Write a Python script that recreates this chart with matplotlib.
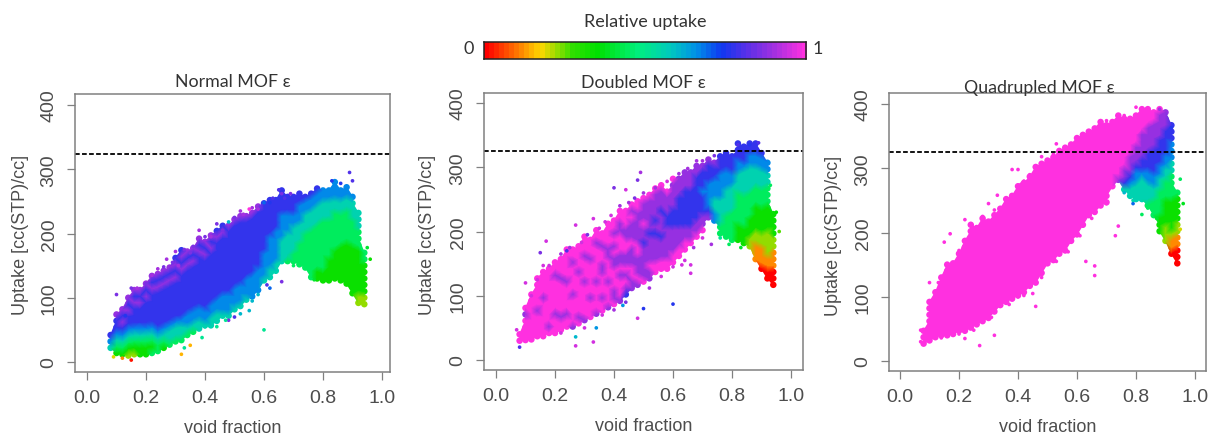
import numpy as np
import matplotlib
matplotlib.use('Agg')
import matplotlib.pyplot as plt
from matplotlib.colors import LinearSegmentedColormap
from matplotlib.tri import Triangulation

# void fraction of each column of points
void_fraction = [0.08, 0.10, 0.12, 0.14, 0.16, 0.18, 0.20, 0.22, 0.24, 0.26, 0.28, 0.30,
                 0.32, 0.34, 0.36, 0.38, 0.40, 0.42, 0.44, 0.46, 0.48, 0.50, 0.52, 0.54,
                 0.56, 0.58, 0.60, 0.62, 0.64, 0.66, 0.68, 0.70, 0.72, 0.74, 0.76, 0.78,
                 0.80, 0.82, 0.84, 0.86, 0.88, 0.90, 0.92, 0.94]

# lowest uptake of each column, then relative uptake going up in steps of 10 (digit / 9)
normal_low = [22, 14, 12, 10, 12, 12, 12, 14, 17, 22, 27, 32,
              34, 42, 47, 52, 57, 57, 64, 72, 72, 82, 87, 97,
              102, 112, 127, 132, 142, 157, 157, 157, 152, 147, 132, 130,
              127, 127, 130, 127, 122, 107, 92, 90]
normal_rel = ["567", "3456778", "34567878", "2345677878", "23456777878", "33456777878",
              "334567777878", "4345677777878", "4456777777878", "3456777777878",
              "4556777777878", "45567777778787", "455677777778787", "45667777777878",
              "45667777777878", "556677777777878", "56677777777878", "556677777777878",
              "556677777777787", "566677777777787", "566677777777778", "566677777777778",
              "566677777777778", "56667777777778", "66667777777778", "66667777777778",
              "5666677777777", "5566666777777", "556666677777", "555566667777",
              "45555666777", "44555566777", "444455566677", "444444555667",
              "44444444555667", "334444444555667", "334444444455566", "333344444455566",
              "3333344444455666", "333333444445566", "3333333444445566", "3333333344445556",
              "223333333444555", "223333344"]

doubled_low = [30, 31, 32, 37, 37, 42, 42, 47, 52, 52, 57, 62,
               67, 72, 77, 82, 87, 92, 102, 112, 117, 122, 127, 137,
               142, 142, 152, 162, 172, 182, 192, 202, 222, 217, 197, 192,
               187, 187, 182, 177, 157, 142, 127, 117]
doubled_rel = ["99", "999989", "99999999", "9999899999", "99999989999", "98999999999",
               "999899999899", "998999998999", "9989999899999", "8999989999899",
               "9899999989999", "89999989998999", "9998999998999", "89999899999899",
               "9989998899899", "89998999889999", "98899988989899", "899989889998899",
               "78989889988999", "88998889888989", "89888998888899", "98888878898889",
               "88988887888889", "99888878788889", "99888788878889", "9988888778889",
               "99888877788889", "9988877777888", "9988777777888", "988777777888",
               "988777777788", "98877767778", "8766667778", "6655666778",
               "4455556666777", "44445555666777", "44444555566777", "3334444455566777",
               "3334444455556777", "22333444455556677", "1112233334445556677",
               "0111223333444555667", "0011222233334445566", "000111223333"]

quad_low = [27, 32, 37, 40, 40, 42, 47, 47, 52, 57, 62, 67,
            77, 87, 92, 97, 102, 107, 117, 122, 137, 152, 157, 167,
            172, 187, 197, 212, 227, 232, 242, 247, 272, 282, 267, 257,
            252, 252, 242, 227, 202, 187, 167, 152]
quad_rel = ["999", "9999999", "99999999", "9999999999", "999999999999", "999999999999",
            "9999999999999", "999999999999999", "99999999999999999", "9999999999999999",
            "99999999999999999", "9999999999999999", "9999999999999999", "9999999999999999",
            "99999999999999999", "99999999999999999", "999999999999999999", "999999999999999999",
            "999999999999999999", "9999999999999999999", "999999999999999999", "99999999999999999",
            "99999999999999999", "99999999999999999", "99999999999999999", "9999999999999999",
            "9999999999999999", "999999999999999", "99999999999999", "99999999999999",
            "99999999999999", "9999999999999", "99999999999", "89999999999",
            "578899999999", "5567888999999", "55566788899999", "555567788889999",
            "4555667778888999", "44455667777888899", "33344445566777788889",
            "222333344455667777888", "011233333444455666777", "000112233334"]

# loose single points outside the dense cloud
normal_out_x = [0.10, 0.13, 0.15, 0.17, 0.27, 0.30, 0.33, 0.38, 0.44, 0.52, 0.55, 0.58, 0.62, 0.65, 0.66, 0.69,
                0.83, 0.86, 0.89, 0.90, 0.60, 0.39, 0.48, 0.50, 0.55, 0.33, 0.35, 0.32, 0.15, 0.12, 0.09, 0.66, 0.61, 0.96, 0.95,
                0.20, 0.22, 0.24, 0.26, 0.29, 0.31, 0.35, 0.36, 0.40, 0.42, 0.46, 0.48, 0.50, 0.53, 0.56, 0.60, 0.63, 0.67,
                0.40, 0.44, 0.47, 0.52, 0.56, 0.58, 0.62, 0.70, 0.74, 0.77]
normal_out_y = [105, 72, 115, 115, 160, 172, 175, 205, 215, 235, 238, 238, 248, 268, 262, 262,
                282, 278, 295, 282, 50, 38, 65, 70, 80, 22, 26, 12, 3, 6, 8, 125, 120, 160, 178,
                122, 135, 145, 148, 155, 150, 170, 180, 195, 195, 205, 218, 225, 230, 240, 248, 255, 255,
                55, 55, 65, 75, 95, 105, 115, 150, 148, 128]
normal_out_rel = [.85, .75, .85, .9, .9, .9, .85, .9, .85, .9, 1, .9, .75, .8, .85, .85,
                  .75, .75, .8, .8, .5, .5, .85, .8, .6, .5, .15, .15, .02, .12, .2, .85, .8, .33, .4,
                  .85, .9, .9, .85, .85, .9, .85, .85, .85, .9, .85, .6, .85, .9, .9, .7, .8, .8,
                  .55, .5, .5, .6, .6, .6, .7, .45, .45, .4]

doubled_out_x = [0.07, 0.08, 0.10, 0.15, 0.17, 0.27, 0.27, 0.33, 0.34, 0.43, 0.48, 0.50, 0.60, 0.24, 0.27, 0.31, 0.33,
                 0.40, 0.44, 0.49, 0.48, 0.47, 0.66, 0.66, 0.63, 0.67, 0.73, 0.68, 0.82, 0.86, 0.89, 0.93, 0.95, 0.96,
                 0.12, 0.14, 0.16, 0.18, 0.22, 0.25, 0.29, 0.35, 0.37, 0.39, 0.42, 0.45, 0.50, 0.54, 0.58, 0.62, 0.65, 0.70, 0.74,
                 0.22, 0.30, 0.36, 0.40, 0.44, 0.52, 0.56, 0.60, 0.64, 0.70, 0.76, 0.79, 0.83]
doubled_out_y = [47, 20, 120, 167, 185, 22, 36, 28, 50, 85, 65, 80, 87, 170, 210, 195, 220,
                 268, 265, 292, 280, 252, 135, 148, 148, 175, 180, 310, 335, 335, 338, 272, 230, 200,
                 100, 125, 147, 147, 165, 175, 183, 205, 215, 225, 240, 245, 260, 268, 278, 290, 298, 310, 318,
                 42, 50, 70, 78, 90, 112, 130, 145, 155, 190, 190, 180, 175]
doubled_out_rel = [.95, .8, .95, .85, .95, .95, .6, .95, .65, .65, .95, .75, .75, .8, .95, .85, .95,
                   .85, .95, .9, .85, .85, .95, .95, .95, .9, .9, .9, .8, .75, .8, .45, .35, .25,
                   .95, .95, .95, .95, .9, .9, .95, .95, .95, .95, .9, .9, .9, .9, .95, .9, .9, .9, .85,
                   .95, .95, .95, .9, .85, .9, .95, .95, .95, .95, .5, .45, .4]

quad_out_x = [0.07, 0.07, 0.10, 0.15, 0.17, 0.22, 0.27, 0.32, 0.22, 0.33, 0.30, 0.38, 0.40, 0.42, 0.46, 0.40,
              0.45, 0.66, 0.66, 0.63, 0.53, 0.58, 0.62, 0.80, 0.73, 0.74, 0.79, 0.92, 0.95, 0.96, 0.82, 0.95,
              0.13, 0.16, 0.20, 0.24, 0.28, 0.32, 0.36, 0.41, 0.44, 0.48, 0.52, 0.56, 0.60, 0.66, 0.70, 0.76, 0.84, 0.88,
              0.14, 0.20, 0.25, 0.31, 0.37, 0.42, 0.48, 0.53, 0.57, 0.61, 0.65, 0.70, 0.76, 0.79, 0.84, 0.87]
quad_out_y = [30, 48, 122, 185, 198, 220, 24, 40, 35, 258, 245, 298, 298, 280, 85, 100,
              105, 133, 148, 155, 338, 338, 352, 395, 195, 210, 245, 363, 283, 245, 228, 205,
              122, 150, 172, 212, 225, 235, 248, 275, 290, 318, 322, 332, 348, 362, 374, 382, 392, 392,
              36, 42, 48, 68, 88, 102, 130, 155, 170, 195, 222, 245, 262, 250, 238, 222]
quad_out_rel = [1, 1, 1, 1, 1, 1, 1, 1, 1, 1, 1, 1, 1, 1, 1, 1,
                1, 1, 1, 1, 1, 1, 1, 1, 1, 1, .7, .75, .45, .38, .45, .2,
                1, 1, 1, 1, 1, 1, 1, 1, 1, 1, 1, 1, 1, 1, 1, 1, 1, .9,
                1, 1, 1, 1, 1, 1, 1, 1, 1, 1, 1, 1, .6, .55, .45, .4]

x_ticks = [0.0, 0.2, 0.4, 0.6, 0.8, 1.0]
y_ticks = [0, 100, 200, 300, 400]
panel_titles = ["Normal MOF ε", "Doubled MOF ε", "Quadrupled MOF ε"]
dash_levels = [323, 326, 325]

W, H = 1210, 435
plt.rcParams['font.family'] = ['Liberation Sans', 'DejaVu Sans']
grey = '#4d4d4d'
spine_grey = '#808080'
title_font = ['Lato', 'DejaVu Sans']

uptake_cmap = LinearSegmentedColormap.from_list('uptake', [
    (0.0, '#ff0000'), (0.10, '#ff7a00'), (0.17, '#ffd800'), (0.27, '#30e000'), (0.35, '#00e000'),
    (0.48, '#00f080'), (0.58, '#00c8c0'), (0.66, '#0090e8'), (0.74, '#1038f0'), (0.82, '#5a30e8'),
    (0.90, '#a030e0'), (1.0, '#ff30e0')], N=64)

fig = plt.figure(figsize=(W / 100, H / 100), dpi=100)


def add_panel(box, x0_px, y0_px, y400_px):
    left, top, right, bottom = box
    ax = fig.add_axes([left / W, 1 - bottom / H, (right - left) / W, (bottom - top) / H])
    ax.set_xlim((left - x0_px) / 295, (right - x0_px) / 295)
    per_unit = (y0_px - y400_px) / 400
    ax.set_ylim((y0_px - bottom) / per_unit, (y0_px - top) / per_unit)
    return ax


def draw_panel(ax, low, rel, out_x, out_y, out_rel, title, level, ylab_x, ylab_y, title_y):
    xs, ys, cs = [], [], []
    for x, lo, digits in zip(void_fraction, low, rel):
        for i, d in enumerate(digits):
            xs.append(x)
            ys.append(lo + 10 * i)
            cs.append(int(d) / 9)
    xs, ys, cs = np.array(xs), np.array(ys), np.array(cs)
    # round dots give the rough outline, shaded triangles fill in between them
    ax.scatter(xs, ys, c=cs, cmap=uptake_cmap, vmin=0, vmax=1, s=22, linewidths=0)
    tris = Triangulation(xs * 500, ys).triangles
    tri = Triangulation(xs, ys, triangles=tris)
    tri.set_mask((np.ptp(xs[tris], axis=1) > 0.03) | (np.ptp(ys[tris], axis=1) > 24))
    ax.tripcolor(tri, cs, cmap=uptake_cmap, vmin=0, vmax=1, shading='gouraud')
    ax.scatter(out_x, out_y, c=out_rel, cmap=uptake_cmap, vmin=0, vmax=1, s=7, linewidths=0)
    ax.axhline(level, color='black', lw=1.3, dashes=(2.6, 1.3))
    ax.set_xticks(x_ticks)
    ax.set_xticklabels(['%.1f' % t for t in x_ticks])
    ax.set_yticks(y_ticks)
    ax.set_yticklabels([str(t) for t in y_ticks], rotation=90, va='center')
    ax.tick_params(colors=grey, labelsize=14, length=6, width=0.9, color=spine_grey, pad=6.5)
    for s in ax.spines.values():
        s.set_color(spine_grey)
        s.set_linewidth(1.1)
    ax.set_xlabel('void fraction', fontsize=13, color=grey, labelpad=9)
    ax.set_ylabel('Uptake [cc(STP)/cc]', fontsize=13, color=grey)
    ax.yaxis.set_label_coords(ylab_x, ylab_y)
    ax.set_title(title, fontsize=12.8, color='#333333', family=title_font, y=title_y, pad=0)


ax1 = add_panel((75, 95, 390, 373), 87, 363, 106)
draw_panel(ax1, normal_low, normal_rel, normal_out_x, normal_out_y, normal_out_rel,
           panel_titles[0], dash_levels[0], -0.146, 0.496, 1.03)
ax2 = add_panel((484, 94, 803, 371), 496, 361, 104)
draw_panel(ax2, doubled_low, doubled_rel, doubled_out_x, doubled_out_y, doubled_out_rel,
           panel_titles[1], dash_levels[1], -0.15, 0.49, 1.02)
ax3 = add_panel((889, 94, 1206, 372), 900, 362, 105)
draw_panel(ax3, quad_low, quad_rel, quad_out_x, quad_out_y, quad_out_rel,
           panel_titles[2], dash_levels[2], -0.148, 0.49, 1.005)
ax3.title.set_x(0.475)

# colour bar along the top
cax = fig.add_axes([484 / W, 1 - 60 / H, 322 / W, 17 / H])
cax.imshow(np.linspace(0, 1, 64).reshape(1, -1), cmap=uptake_cmap, aspect='auto', extent=[0, 1, 0, 1])
cax.set_xticks([])
cax.set_yticks([])
for s in cax.spines.values():
    s.set_linewidth(1.1)
    s.set_color('#222222')
fig.text(469 / W, 1 - 49 / H, '0', fontsize=13, color='#333333', ha='center', va='center', family=title_font)
fig.text(818 / W, 1 - 49 / H, '1', fontsize=13, color='#333333', ha='center', va='center', family=title_font)
fig.text(645 / W, 1 - 22 / H, 'Relative uptake', fontsize=13, color='#333333', ha='center', va='center', family=title_font)

plt.savefig('out.png', dpi=100)
